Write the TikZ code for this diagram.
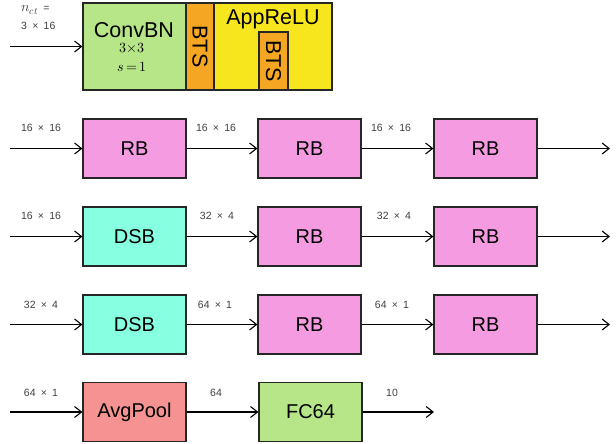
\documentclass[tikz,border=0pt]{standalone}
\usepackage{unicode-math}
\setmainfont{Liberation Sans}
\setmathfont{Latin Modern Math}
\usetikzlibrary{arrows.meta}

\definecolor{convgreen}{RGB}{183,230,137}
\definecolor{btsorange}{RGB}{245,166,35}
\definecolor{reluyellow}{RGB}{247,229,30}
\definecolor{rbpink}{RGB}{244,155,226}
\definecolor{dsbcyan}{RGB}{135,255,225}
\definecolor{poolred}{RGB}{245,147,147}

\newcommand{\dimx}[2]{#1\enspace×\enspace#2}

\begin{document}
\begin{tikzpicture}[x=1pt, y=-1pt,
  every node/.style={font=\fontsize{20}{24}\selectfont, inner sep=0pt},
  blk/.style={draw=black!85, line width=1.2pt, minimum width=103pt, minimum height=59pt},
  dim/.style={font=\fontsize{10.5}{14}\selectfont, text=black!75},
  flow/.style={line width=1.1pt, -{Straight Barb[length=7pt,width=11pt,line width=1.1pt]}}]

  \useasboundingbox (0,0) rectangle (616,444);

  % stem: ConvBN, BTS and AppReLU side by side
  \node[blk, fill=convgreen, minimum width=103pt, minimum height=87pt] at (134.5,46.5) (conv) {};
  \node[blk, fill=btsorange, minimum width=28pt, minimum height=87pt] at (200,46.5) (bts) {};
  \node[blk, fill=reluyellow, minimum width=118pt, minimum height=87pt] at (273,46.5) (relu) {};
  \node[blk, fill=btsorange, minimum width=29pt, minimum height=58pt] at (273.5,61) (bts2) {};

  \node[font=\fontsize{21.5}{24}\selectfont] at (134,30) {ConvBN};
  \node[font=\fontsize{14}{16}\selectfont] at (132,48) {$3{\times}3$};
  \node[font=\fontsize{14}{16}\selectfont] at (132,67) {$s\,{=}\,1$};
  \node[font=\fontsize{21.5}{24}\selectfont, rotate=-90] at (bts) {BTS};
  \node[font=\fontsize{21.5}{24}\selectfont] at (273,19) {AppReLU};
  \node[font=\fontsize{21.5}{24}\selectfont, rotate=-90] at (bts2) {BTS};

  \node[dim, anchor=west] at (21,10) {{\fontsize{14}{16}\selectfont$n_{ct}$}\enspace=};
  \node[dim, anchor=west] at (21,26) {\dimx{3}{16}};
  \coordinate (in0) at (10,46.5);
  \draw[flow] (in0) -- (conv);

  % stage 1
  \node[blk, fill=rbpink] at (134.5,148.5) (rb11) {RB};
  \node[blk, fill=rbpink] at (309.5,148.5) (rb12) {RB};
  \node[blk, fill=rbpink] at (485.5,148.5) (rb13) {RB};
  \coordinate (in1) at (10,148.5);
  \coordinate (out1) at (610,148.5);
  \draw[flow] (in1) -- (rb11);
  \draw[flow] (rb11) -- (rb12);
  \draw[flow] (rb12) -- (rb13);
  \draw[flow] (rb13) -- (out1);
  \node[dim] at (41,128) {\dimx{16}{16}};
  \node[dim] at (216,128) {\dimx{16}{16}};
  \node[dim] at (391,128) {\dimx{16}{16}};

  % stage 2
  \node[blk, fill=dsbcyan] at (134.5,236.5) (dsb2) {DSB};
  \node[blk, fill=rbpink] at (309.5,236.5) (rb22) {RB};
  \node[blk, fill=rbpink] at (485.5,236.5) (rb23) {RB};
  \coordinate (in2) at (10,236.5);
  \coordinate (out2) at (610,236.5);
  \draw[flow] (in2) -- (dsb2);
  \draw[flow] (dsb2) -- (rb22);
  \draw[flow] (rb22) -- (rb23);
  \draw[flow] (rb23) -- (out2);
  \node[dim] at (41,216) {\dimx{16}{16}};
  \node[dim] at (217,216) {\dimx{32}{4}};
  \node[dim] at (394,216) {\dimx{32}{4}};

  % stage 3
  \node[blk, fill=dsbcyan] at (134.5,324.5) (dsb3) {DSB};
  \node[blk, fill=rbpink] at (309.5,324.5) (rb32) {RB};
  \node[blk, fill=rbpink] at (485.5,324.5) (rb33) {RB};
  \coordinate (in3) at (10,324.5);
  \coordinate (out3) at (610,324.5);
  \draw[flow] (in3) -- (dsb3);
  \draw[flow] (dsb3) -- (rb32);
  \draw[flow] (rb32) -- (rb33);
  \draw[flow] (rb33) -- (out3);
  \node[dim] at (41,305) {\dimx{32}{4}};
  \node[dim] at (215,305) {\dimx{64}{1}};
  \node[dim] at (392,305) {\dimx{64}{1}};

  % head
  \node[blk, fill=poolred] at (134.5,412) (pool) {AvgPool};
  \node[blk, fill=convgreen] at (310.5,412) (fc) {FC64};
  \coordinate (in4) at (10,412);
  \coordinate (out4) at (434,412);
  \draw[flow] (in4) -- (pool);
  \draw[flow] (pool) -- (fc);
  \draw[flow] (fc) -- (out4);
  \node[dim] at (41,393) {\dimx{64}{1}};
  \node[dim] at (216,393) {64};
  \node[dim] at (392,393) {10};

\end{tikzpicture}
\end{document}
